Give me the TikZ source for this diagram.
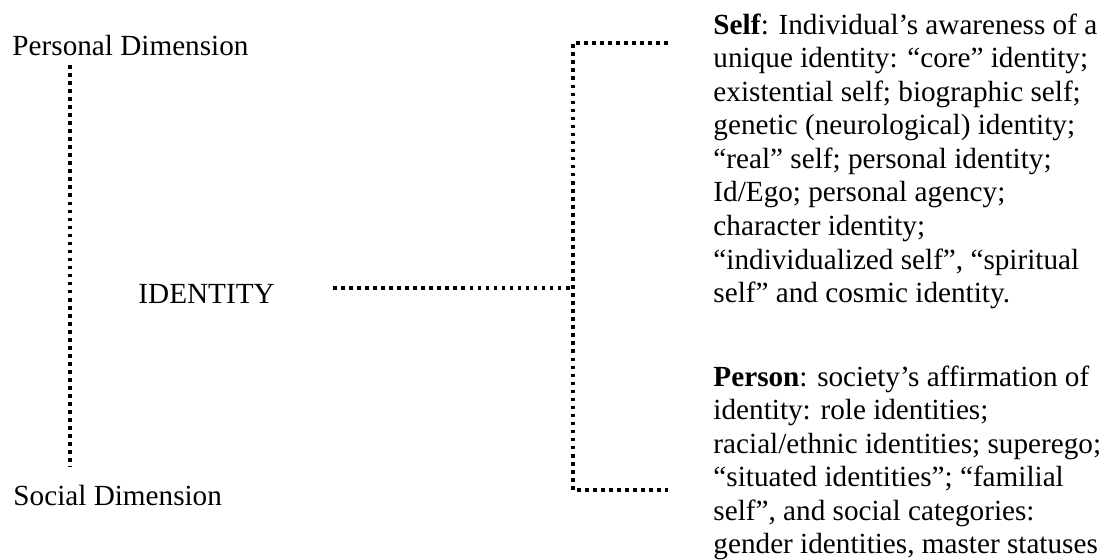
\documentclass[tikz,border=0pt]{standalone}
\usepackage{fontspec}
\setmainfont{Liberation Serif}
\usetikzlibrary{positioning}

\begin{document}
\begin{tikzpicture}[x=0.411pt,y=-0.411pt,font=\fontsize{12pt}{13.8pt}\selectfont,
    dotline/.style={line width=1.5pt,dash pattern=on 1.5pt off 1.8pt},
    label/.style={inner sep=0pt,anchor=base west},
    block/.style={inner sep=0pt,anchor=north west,align=left}]
    \useasboundingbox (0,0) rectangle (1109,559);

    \node[label] (personal) at (12,55) {Personal Dimension};
    \node[label] (social) at (13,505) {Social Dimension};
    \node[label] (identity) at (138,303) {IDENTITY};

    \node[block] (self) at (713,13) {\textbf{Self}: Individual’s awareness of a\\
        unique identity: “core” identity;\\
        existential self; biographic self;\\
        genetic (neurological) identity;\\
        “real” self; personal identity;\\
        Id/Ego; personal agency;\\
        character identity;\\
        “individualized self”, “spiritual\\
        self” and cosmic identity.};
    \node[block] (person) at (713,365) {\textbf{Person}: society’s affirmation of\\
        identity: role identities;\\
        racial/ethnic identities; superego;\\
        “situated identities”; “familial\\
        self”, and social categories:\\
        gender identities, master statuses};

    \coordinate (dimtop) at (70,65);
    \coordinate (dimbot) at (70,467);
    \coordinate (hstart) at (333,288);
    \coordinate (fork) at (573,288);
    \coordinate (selfend) at (668,43);
    \coordinate (personend) at (668,490);

    \draw[dotline] (dimtop) -- (dimbot);
    \draw[dotline] (hstart) -- (fork);
    \draw[dotline] (selfend) -| (fork) |- (personend);
\end{tikzpicture}
\end{document}
